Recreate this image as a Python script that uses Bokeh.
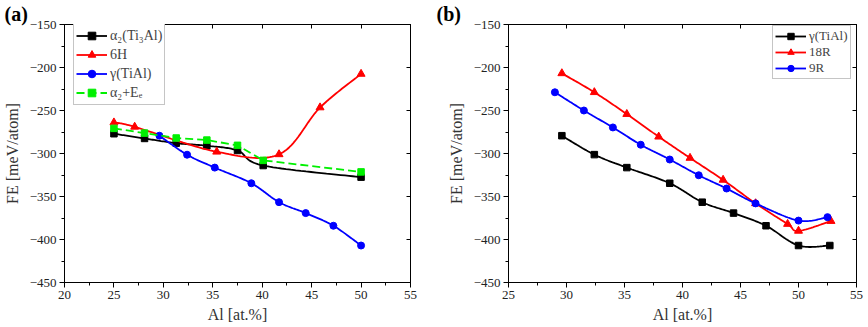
import numpy as np
from bokeh.plotting import figure
from bokeh.layouts import row
from bokeh.models import (Legend, LegendItem, LinearAxis, Title, SingleIntervalTicker, Range1d,
                          CustomJSTickFormatter)
from bokeh.embed import file_html
from bokeh.resources import INLINE

# ---------------- data: panel (a) ----------------
a_alpha2_x = [25.0, 28.1, 31.3, 34.4, 37.5, 40.1, 50.0]
a_alpha2_y = [-277, -282.5, -288, -291, -296.5, -314, -327.5]
a_6h_x = [25.0, 27.1, 35.4, 41.7, 45.85, 50.0]
a_6h_y = [-264, -269, -298, -301, -246.5, -207.5]
a_gamma_x = [29.6, 32.4, 35.2, 38.9, 41.7, 44.4, 47.2, 50.0]
a_gamma_y = [-279.3, -301.4, -316.4, -334.6, -356.6, -369.3, -384, -407]
a_ee_x = [25.0, 28.1, 31.3, 34.4, 37.5, 40.1, 50.0]
a_ee_y = [-270.8, -276.3, -282, -284.4, -290.5, -308, -321.4]

# ---------------- data: panel (b) ----------------
b_gamma_x = [29.6, 32.4, 35.2, 38.9, 41.7, 44.4, 47.2, 50.0, 52.7]
b_gamma_y = [-279.3, -301.3, -316.4, -334.6, -356.6, -369.3, -384, -407, -407]
b_18r_x = [29.6, 32.4, 35.2, 37.95, 40.65, 43.5, 46.3, 49.06, 50.0, 52.8]
b_18r_y = [-206.8, -228.8, -254.2, -280.5, -305.2, -330.7, -358, -382, -390, -378.6]
b_9r_x = [29.0, 31.5, 34.0, 36.4, 38.9, 41.4, 43.8, 46.3, 50.0, 52.5]
b_9r_y = [-228.8, -250, -269.7, -289.8, -307, -325.3, -340.7, -358, -378, -374]

labels_a = ["\u03b1\u2082(Ti\u2083Al)", "6H", "\u03b3(TiAl)", "\u03b1\u2082+E\u2091"]
labels_b = ["\u03b3(TiAl)", "18R", "9R"]

FONT = "'Liberation Serif', serif"
BLACK, RED, BLUE, GREEN = "#000000", "#ff0000", "#0000ff", "#00f000"


def smooth(xs, ys, n=24):
    """Catmull-Rom curve through the data points (for drawing only)."""
    x = np.asarray(xs, float)
    y = np.asarray(ys, float)
    px = np.concatenate([[x[0]], x, [x[-1]]])
    py = np.concatenate([[y[0]], y, [y[-1]]])
    ox, oy = [], []
    t = np.linspace(0, 1, n)
    for i in range(1, len(px) - 2):
        for arr, out in ((px, ox), (py, oy)):
            p0, p1, p2, p3 = arr[i - 1], arr[i], arr[i + 1], arr[i + 2]
            v = 0.5 * ((2 * p1) + (-p0 + p2) * t + (2 * p0 - 5 * p1 + 4 * p2 - p3) * t ** 2
                       + (-p0 + 3 * p1 - 3 * p2 + p3) * t ** 3)
            out.extend(v.tolist())
    return ox, oy


def make_fig(xr, left, right, panel):
    p = figure(width=434, height=327, x_range=Range1d(*xr), y_range=Range1d(-450, -150),
               output_backend="svg", toolbar_location=None,
               min_border_left=left, min_border_right=right, min_border_top=0,
               min_border_bottom=45)
    p.title = Title(text=panel, align="left", offset=-(left - 2), standoff=0,
                    text_font=FONT, text_font_size="20px", text_font_style="bold",
                    text_color="#000000", text_line_height=0.95)
    p.xgrid.visible = False
    p.ygrid.visible = False
    p.outline_line_color = "#000000"
    p.outline_line_width = 1
    p.xaxis.ticker = SingleIntervalTicker(interval=5, num_minor_ticks=2)
    p.yaxis.ticker = SingleIntervalTicker(interval=50, num_minor_ticks=2)
    p.xaxis.axis_label = "Al [at.%]"
    p.yaxis.axis_label = "FE [meV/atom]"
    p.xaxis.major_label_standoff = 3
    p.yaxis.major_label_standoff = 3
    p.xaxis.axis_label_standoff = 4
    p.yaxis.axis_label_standoff = 6
    for ax in (p.xaxis, p.yaxis):
        ax.axis_line_color = "#000000"
        ax.major_tick_out = 5
        ax.major_tick_in = 0
        ax.minor_tick_out = 3
        ax.minor_tick_in = 0
        ax.major_label_text_font = FONT
        ax.major_label_text_font_size = "13px"
        ax.major_label_text_color = "#222222"
        ax.axis_label_text_font = FONT
        ax.axis_label_text_font_size = "16px"
        ax.axis_label_text_font_style = "normal"
        ax.axis_label_text_color = "#333333"
    # mirrored axes on top and right, ticks pointing inwards, no labels
    blank = CustomJSTickFormatter(code="return '';")
    top = LinearAxis(ticker=SingleIntervalTicker(interval=5, num_minor_ticks=2),
                     formatter=blank, major_tick_in=4, major_tick_out=0,
                     minor_tick_in=0, minor_tick_out=0, axis_line_color="#000000",
                     major_label_standoff=0)
    rgt = LinearAxis(ticker=SingleIntervalTicker(interval=50, num_minor_ticks=2),
                     formatter=blank, major_tick_in=4, major_tick_out=0,
                     minor_tick_in=0, minor_tick_out=0, axis_line_color="#000000",
                     major_label_standoff=0)
    p.add_layout(top, "above")
    p.add_layout(rgt, "right")
    return p


def series(p, xs, ys, color, marker, size, dash="solid", curved=True):
    if curved:
        lx, ly = smooth(xs, ys)
    else:
        lx, ly = xs, ys
    r1 = p.line(lx, ly, line_color=color, line_width=1.8, line_dash=dash)
    r2 = p.scatter(xs, ys, marker=marker, size=size, fill_color=color, line_color=color)
    return [r1, r2]


# ---------------- panel (a) ----------------
pa = make_fig((20, 55), 62, 24, "(a)")
ra = [
    series(pa, a_alpha2_x, a_alpha2_y, BLACK, "square", 6.5),
    series(pa, a_6h_x, a_6h_y, RED, "triangle", 8),
    series(pa, a_gamma_x, a_gamma_y, BLUE, "circle", 7),
    series(pa, a_ee_x, a_ee_y, GREEN, "square", 6.5, dash="8 4", curved=False),
]
leg_a = Legend(items=[LegendItem(label=l, renderers=r) for l, r in zip(labels_a, ra)],
               location=(9, 177), glyph_width=31, glyph_height=19, label_height=19,
               label_standoff=3, spacing=0, padding=2, margin=0,
               label_text_font=FONT, label_text_font_size="14px",
               border_line_color="#8c8c8c", border_line_width=1, background_fill_alpha=1)
pa.add_layout(leg_a, "center")

# ---------------- panel (b) ----------------
pb = make_fig((25, 55), 74, 12, "(b)")
rb = [
    series(pb, b_gamma_x, b_gamma_y, BLACK, "square", 6.5),
    series(pb, b_18r_x, b_18r_y, RED, "triangle", 8),
    series(pb, b_9r_x, b_9r_y, BLUE, "circle", 7),
]
leg_b = Legend(items=[LegendItem(label=l, renderers=r) for l, r in zip(labels_b, rb)],
               location=(264, 203), glyph_width=31, glyph_height=16, label_height=16,
               label_standoff=3, spacing=0, padding=2, margin=0,
               label_text_font=FONT, label_text_font_size="13px",
               border_line_color="#8c8c8c", border_line_width=1, background_fill_alpha=1)
pb.add_layout(leg_b, "center")

layout = row(pa, pb, spacing=0)
open("out.html", "w").write(file_html(layout, INLINE))
